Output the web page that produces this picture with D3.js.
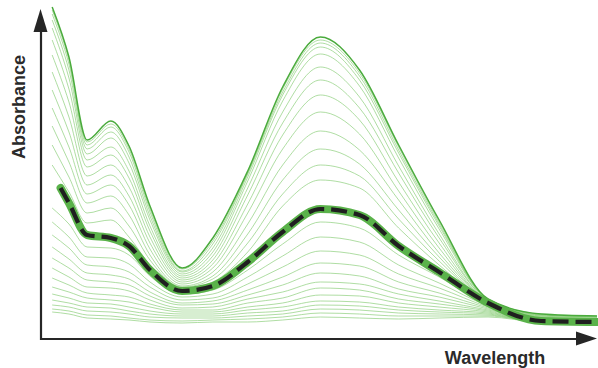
<!DOCTYPE html>
<html>
<head>
<meta charset="utf-8">
<script src="https://cdn.jsdelivr.net/npm/d3@7"></script>
<style>
html,body{margin:0;padding:0;background:#fff;}
svg{display:block;}
</style>
</head>
<body>
<svg id="chart" width="598" height="368"></svg>
<script>
// Wavelength sample points (nm, arbitrary scale; axis has no ticks)
const wavelengths = [300, 312, 325, 342, 355, 370, 393, 415, 440, 465, 492, 520, 548, 577, 612, 650, 690];
// Absorbance series (arbitrary units), top curve first
const spectrum01 = [3.32,2.82,1.99,2.18,1.93,1.33,0.71,1.01,1.68,2.52,3.02,2.69,1.94,1.19,0.40,0.25,0.23];
const spectrum02 = [3.29,2.79,1.97,2.15,1.90,1.30,0.70,0.98,1.66,2.50,2.99,2.66,1.92,1.17,0.40,0.25,0.23];
const spectrum03 = [3.25,2.75,1.94,2.12,1.87,1.27,0.68,0.95,1.65,2.47,2.96,2.63,1.89,1.15,0.39,0.24,0.22];
const spectrum04 = [3.19,2.69,1.90,2.07,1.82,1.23,0.67,0.91,1.62,2.44,2.92,2.59,1.86,1.13,0.39,0.24,0.22];
const spectrum05 = [3.11,2.61,1.85,2.01,1.76,1.19,0.65,0.87,1.58,2.38,2.85,2.53,1.81,1.10,0.39,0.24,0.22];
const spectrum06 = [2.99,2.50,1.79,1.92,1.68,1.13,0.63,0.83,1.51,2.27,2.72,2.42,1.73,1.05,0.38,0.23,0.21];
const spectrum07 = [2.84,2.37,1.72,1.84,1.61,1.08,0.61,0.79,1.44,2.16,2.59,2.31,1.66,1.01,0.38,0.23,0.21];
const spectrum08 = [2.67,2.22,1.63,1.74,1.52,1.02,0.59,0.75,1.35,2.04,2.44,2.19,1.57,0.96,0.37,0.22,0.20];
const spectrum09 = [2.49,2.07,1.54,1.64,1.43,0.96,0.57,0.71,1.26,1.90,2.27,2.05,1.48,0.91,0.37,0.22,0.20];
const spectrum10 = [2.31,1.92,1.45,1.54,1.34,0.90,0.55,0.67,1.15,1.74,2.08,1.89,1.39,0.86,0.37,0.21,0.20];
const spectrum11 = [2.13,1.77,1.36,1.43,1.24,0.84,0.53,0.63,1.05,1.59,1.90,1.75,1.29,0.82,0.36,0.21,0.19];
const spectrum12 = [1.94,1.62,1.26,1.31,1.13,0.79,0.52,0.60,0.96,1.45,1.74,1.63,1.20,0.78,0.36,0.20,0.19];
const spectrum13 = [1.74,1.47,1.16,1.19,1.02,0.74,0.50,0.57,0.87,1.33,1.59,1.51,1.11,0.74,0.36,0.20,0.19];
const spectrum15 = [1.31,1.15,0.92,0.91,0.84,0.63,0.45,0.49,0.69,0.95,1.17,1.11,0.84,0.62,0.34,0.18,0.18];
const spectrum16 = [1.17,1.02,0.82,0.81,0.75,0.57,0.42,0.45,0.62,0.83,1.02,0.97,0.74,0.56,0.33,0.18,0.18];
const spectrum17 = [1.04,0.91,0.74,0.72,0.67,0.52,0.39,0.41,0.55,0.72,0.88,0.84,0.65,0.51,0.32,0.18,0.18];
const spectrum18 = [0.92,0.80,0.66,0.64,0.60,0.47,0.36,0.38,0.49,0.62,0.76,0.73,0.57,0.46,0.31,0.18,0.18];
const spectrum19 = [0.81,0.71,0.59,0.57,0.54,0.43,0.34,0.35,0.44,0.54,0.66,0.63,0.50,0.42,0.30,0.18,0.18];
const spectrum20 = [0.71,0.62,0.52,0.51,0.48,0.39,0.31,0.32,0.40,0.47,0.57,0.55,0.45,0.38,0.29,0.18,0.17];
const spectrum21 = [0.61,0.54,0.46,0.44,0.42,0.35,0.29,0.29,0.36,0.41,0.51,0.49,0.40,0.35,0.28,0.17,0.17];
const spectrum22 = [0.52,0.47,0.41,0.39,0.37,0.32,0.27,0.27,0.32,0.36,0.44,0.43,0.36,0.32,0.27,0.17,0.17];
const spectrum23 = [0.45,0.41,0.36,0.35,0.32,0.28,0.25,0.25,0.29,0.32,0.38,0.37,0.32,0.29,0.26,0.17,0.17];
const spectrum24 = [0.39,0.36,0.32,0.31,0.28,0.25,0.23,0.23,0.26,0.28,0.34,0.33,0.29,0.27,0.25,0.17,0.17];
const spectrum25 = [0.34,0.32,0.28,0.27,0.25,0.22,0.21,0.21,0.23,0.25,0.30,0.29,0.26,0.25,0.24,0.17,0.17];
const spectrum26 = [0.30,0.28,0.24,0.23,0.21,0.19,0.18,0.19,0.20,0.22,0.26,0.25,0.23,0.23,0.23,0.17,0.17];
const spectrum27 = [0.27,0.25,0.21,0.20,0.19,0.17,0.16,0.17,0.17,0.19,0.22,0.21,0.20,0.21,0.22,0.17,0.17];
// Highlighted (dashed) spectrum
const highlightWavelengths = [306, 312, 325, 342, 355, 370, 393, 415, 440, 465, 492, 520, 548, 577, 612, 650, 690];
const highlightSpectrum = [1.51,1.36,1.04,1.01,0.93,0.69,0.48,0.53,0.77,1.07,1.30,1.24,0.93,0.67,0.36,0.18,0.17];

const axisLabels = {x: "Wavelength", y: "Absorbance"};

const thinSpectra = [spectrum02, spectrum03, spectrum04, spectrum05, spectrum06, spectrum07,
  spectrum08, spectrum09, spectrum10, spectrum11, spectrum12, spectrum13, spectrum15, spectrum16,
  spectrum17, spectrum18, spectrum19, spectrum20, spectrum21, spectrum22, spectrum23, spectrum24,
  spectrum25, spectrum26, spectrum27];

const svg = d3.select("#chart");
const x = d3.scaleLinear().domain([292, 690]).range([41, 597]);
const y = d3.scaleLinear().domain([0, 3.39]).range([339, 0]);

const line = d3.line()
  .x((d, i) => x(wavelengths[i]))
  .y(d => y(d))
  .curve(d3.curveMonotoneX);
const hLine = d3.line()
  .x((d, i) => x(highlightWavelengths[i]))
  .y(d => y(d))
  .curve(d3.curveMonotoneX);

const g = svg.append("g");
g.selectAll("path.thin").data(thinSpectra).join("path")
  .attr("class", "thin")
  .attr("d", line)
  .attr("fill", "none")
  .attr("stroke", "#8ccf7b")
  .attr("stroke-width", 0.7);

g.append("path").attr("d", line(spectrum01))
  .attr("fill", "none").attr("stroke", "#4aab3c").attr("stroke-width", 1.5);

g.append("path").attr("d", hLine(highlightSpectrum))
  .attr("fill", "none").attr("stroke", "#5ab24a").attr("stroke-width", 8)
  .attr("stroke-linejoin", "round").attr("stroke-linecap", "round");
g.append("path").attr("d", hLine(highlightSpectrum))
  .attr("fill", "none").attr("stroke", "#1f1f1f").attr("stroke-width", 4.2)
  .attr("stroke-dasharray", "16 7");

// Axes with arrows
const axisColor = "#262626";
svg.append("line").attr("x1", 41).attr("y1", 340).attr("x2", 41).attr("y2", 28)
  .attr("stroke", axisColor).attr("stroke-width", 2.2);
svg.append("path").attr("d", "M40.5,9 L33.5,32 L47.5,32 Z").attr("fill", axisColor);
svg.append("line").attr("x1", 40).attr("y1", 339).attr("x2", 580).attr("y2", 339)
  .attr("stroke", axisColor).attr("stroke-width", 2.2);
svg.append("path").attr("d", "M597,338.5 L576,331.5 L576,345.5 Z").attr("fill", axisColor);

svg.append("text")
  .attr("transform", "translate(25,107) rotate(-90)")
  .attr("text-anchor", "middle")
  .attr("font-family", "Liberation Sans, Arial, sans-serif")
  .attr("font-weight", "bold").attr("font-size", 18)
  .attr("fill", "#2a2a2a")
  .text(axisLabels.y);
svg.append("text")
  .attr("x", 495).attr("y", 364)
  .attr("text-anchor", "middle")
  .attr("font-family", "Liberation Sans, Arial, sans-serif")
  .attr("font-weight", "bold").attr("font-size", 18)
  .attr("fill", "#2a2a2a")
  .text(axisLabels.x);
</script>
</body>
</html>
